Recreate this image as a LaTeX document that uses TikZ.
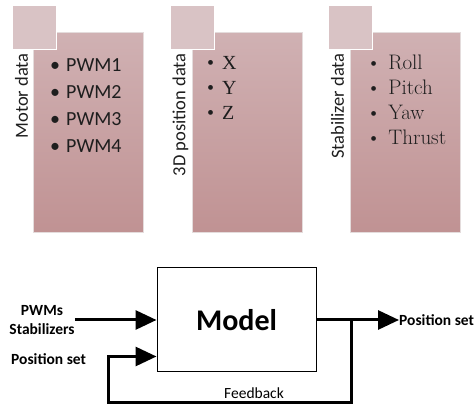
\documentclass[tikz,border=0pt]{standalone}
\usepackage{fontspec}
\newfontfamily\calibri{Carlito}
\newfontfamily\timesfont{Liberation Serif}
\usetikzlibrary{arrows.meta, positioning, calc}
\definecolor{PanelTop}{HTML}{D0B1B3}
\definecolor{PanelBottom}{HTML}{C09293}
\definecolor{TabFill}{HTML}{D9C3C5}
\definecolor{PanelEdge}{HTML}{E4DCDC}
\definecolor{InkGray}{HTML}{1E1E1E}
\tikzset{
    % Shaded body of each data panel
    panel_body/.style={
        rectangle,
        draw=PanelEdge,
        line width=0.8pt,
        top color=PanelTop,
        bottom color=PanelBottom,
        minimum width=110pt,
        minimum height=200pt,
        inner sep=0pt
    },
    % Small square tab on the top left corner
    tab_square/.style={
        rectangle,
        draw=white,
        line width=0.8pt,
        fill=TabFill,
        minimum size=44pt,
        inner sep=0pt
    },
    panel_title/.style={
        rotate=90,
        anchor=east,
        inner sep=0pt,
        text=InkGray,
        font=\calibri\fontsize{18.5}{20}\selectfont
    },
    item_list/.style={
        anchor=north west,
        align=left,
        inner sep=0pt,
        text=InkGray
    },
    model_block/.style={
        rectangle,
        draw=black,
        line width=1pt,
        minimum width=159pt,
        minimum height=104pt,
        font=\calibri\bfseries\fontsize{30}{32}\selectfont
    },
    io_label/.style={
        inner sep=0pt,
        align=center,
        font=\calibri\bfseries\fontsize{15.5}{19}\selectfont
    },
    arrow/.style={
        -{Triangle[length=21pt, width=19pt]},
        draw=black,
        line width=3pt
    }
}

\begin{document}
\begin{tikzpicture}[x=1pt, y=-1pt]
    \useasboundingbox (0,0) rectangle (474,411);

    % --- TOP PANELS ---
    \node[panel_body, anchor=north west] (motor_body) at (33,32) {};
    \node[tab_square, anchor=north west] (motor_tab) at (12,5) {};
    \node[panel_title] (motor_title) at (21.5,53) {Motor data};
    \node[item_list, font=\calibri\fontsize{20}{27}\selectfont] (motor_items) at (50,58)
        {\textbullet\hspace{6pt}PWM1\\\textbullet\hspace{6pt}PWM2\\\textbullet\hspace{6pt}PWM3\\\textbullet\hspace{6pt}PWM4};

    \node[panel_body, anchor=north west] (pos_body) at (192,32) {};
    \node[tab_square, anchor=north west] (pos_tab) at (170,5) {};
    \node[panel_title] (pos_title) at (180.5,53) {3D position data};
    \node[item_list, font=\timesfont\fontsize{20}{25}\selectfont] (pos_items) at (207,56)
        {\textbullet\hspace{8pt}X\\\textbullet\hspace{8pt}Y\\\textbullet\hspace{8pt}Z};

    \node[panel_body, anchor=north west] (stab_body) at (350,32) {};
    \node[tab_square, anchor=north west] (stab_tab) at (328,5) {};
    \node[panel_title] (stab_title) at (337.5,53) {Stabilizer data};
    \node[item_list, font=\fontsize{21}{25}\selectfont] (stab_items) at (366,55)
        {\textbullet\hspace{7pt}Roll\\\textbullet\hspace{7pt}Pitch\\\textbullet\hspace{7pt}Yaw\\\textbullet\hspace{7pt}Thrust};

    % --- MODEL LOOP ---
    \node[model_block] (model) at (236.5,320) {Model};
    \node[io_label] (pwm_lbl) at (42,320) {PWMs\\Stabilizers};
    \node[io_label, anchor=west] (pos_lbl) at (11,359) {Position set};
    \node[io_label, anchor=west] (out_lbl) at (399,320) {Position set};
    \node[inner sep=0pt, font=\calibri\fontsize{15.5}{17}\selectfont] (fb_lbl) at (254,393) {Feedback};

    \coordinate (fb_tap) at (351,320);
    \coordinate (fb_low) at (108,403);
    \coordinate (fb_in) at ($(model.south west)+(0,-16)$);

    \draw[arrow] (pwm_lbl.east |- model.west) -- (model.west);
    \draw[arrow] (model.east) -- (out_lbl.west);
    \draw[arrow] (fb_tap) |- (fb_low) |- (fb_in);

\end{tikzpicture}
\end{document}
